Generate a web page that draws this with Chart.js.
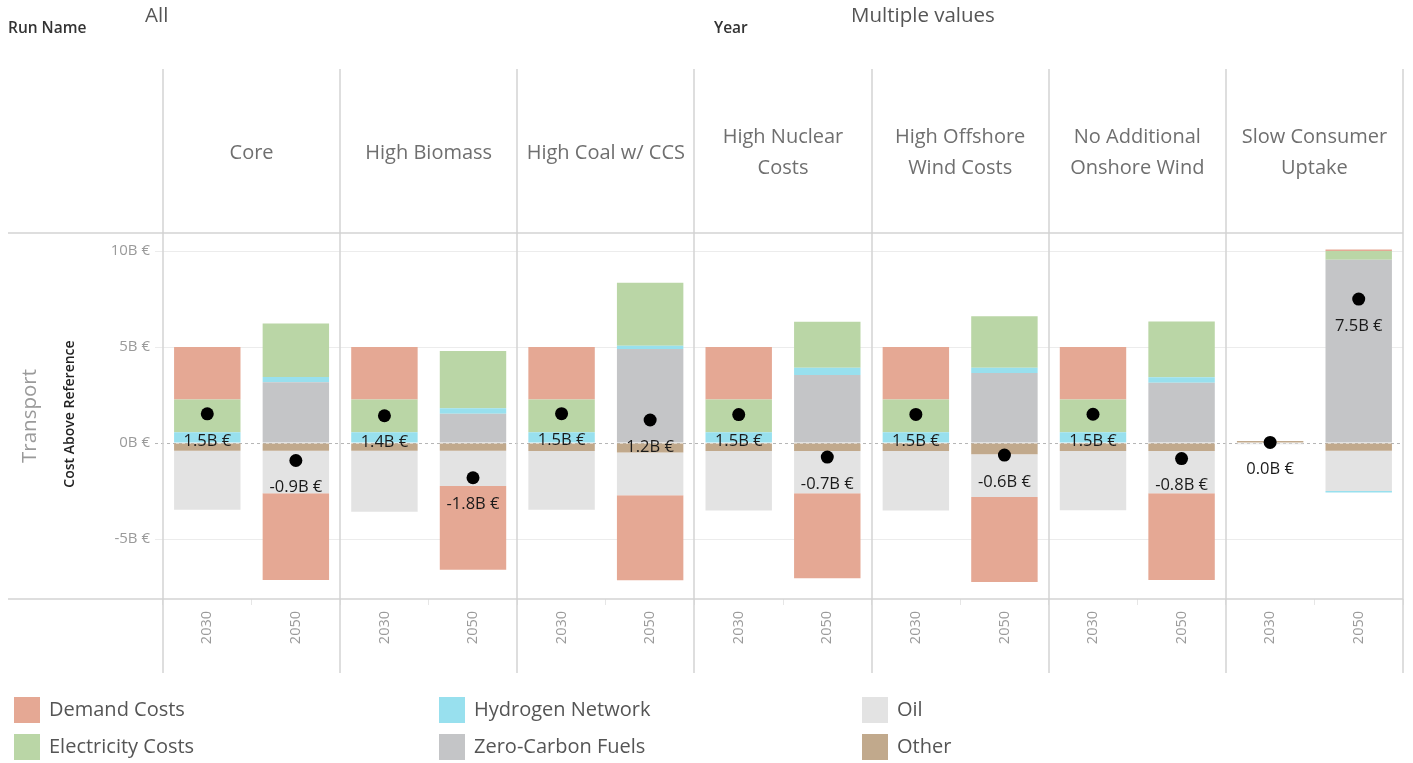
<!DOCTYPE html>
<html>
<head>
<meta charset="utf-8">
<title>Transport cost above reference</title>
<script src="https://cdn.jsdelivr.net/npm/chart.js@4.4.1/dist/chart.umd.min.js"></script>
<style>
  html, body { margin: 0; padding: 0; background: #fff; }
  #wrap { width: 1413px; height: 763px; }
</style>
</head>
<body>
<div id="wrap"><canvas id="costChart" width="1413" height="763"></canvas></div>
<script>
// Facets (Run Name) and the years inside each one
const runs = ['Core', 'High Biomass', 'High Coal w/ CCS', 'High Nuclear Costs',
  'High Offshore Wind Costs', 'No Additional Onshore Wind', 'Slow Consumer Uptake'];
const runHeaders = [['Core'], ['High Biomass'], ['High Coal w/ CCS'], ['High Nuclear', 'Costs'],
  ['High Offshore', 'Wind Costs'], ['No Additional', 'Onshore Wind'], ['Slow Consumer', 'Uptake']];
const years = ['2030', '2050'];

// Values in billion €, one per run/year (Core 2030, Core 2050, High Biomass 2030, ...)
const demandCosts      = [2.73, -4.52, 2.73, -4.36, 2.73, -4.43, 2.73, -4.43, 2.73, -4.43, 2.73, -4.52, 0, 0.08];
const electricityCosts = [1.71, 2.79, 1.71, 2.98, 1.71, 3.28, 1.71, 2.40, 1.71, 2.69, 1.71, 2.91, 0, 0.45];
const hydrogenNetwork  = [0.56, 0.28, 0.56, 0.28, 0.56, 0.17, 0.56, 0.38, 0.56, 0.27, 0.56, 0.28, 0, -0.08];
const zeroCarbonFuels  = [0, 3.16, 0, 1.53, 0, 4.90, 0, 3.54, 0, 3.65, 0, 3.14, 0, 9.55];
const oil              = [-3.08, -2.22, -3.18, -1.84, -3.05, -2.22, -3.10, -2.20, -3.09, -2.22, -3.08, -2.20, -0.07, -2.10];
const other            = [-0.40, -0.40, -0.40, -0.40, -0.42, -0.50, -0.42, -0.42, -0.42, -0.59, -0.42, -0.42, 0.10, -0.40];

const yTicks = [-5, 0, 5, 10];

const labels = runs.flatMap(() => years);
const totals = labels.map((_, i) =>
  demandCosts[i] + electricityCosts[i] + hydrogenNetwork[i] + zeroCarbonFuels[i] + oil[i] + other[i]);

const FONT = '"Open Sans", "Noto Sans", sans-serif';

// stacking order: positives ZCF -> H2 -> Elec -> Demand, negatives Other -> Oil -> H2/Demand
const barSets = [
  { label: 'Other', data: other, backgroundColor: '#c1a98c' },
  { label: 'Oil', data: oil, backgroundColor: '#e3e3e3' },
  { label: 'Zero-Carbon Fuels', data: zeroCarbonFuels, backgroundColor: '#c4c5c7' },
  { label: 'Hydrogen Network', data: hydrogenNetwork, backgroundColor: '#98e0ee' },
  { label: 'Electricity Costs', data: electricityCosts, backgroundColor: '#bad6a6' },
  { label: 'Demand Costs', data: demandCosts, backgroundColor: '#e5a894' }
];

const legendOrder = ['Demand Costs', 'Electricity Costs', 'Hydrogen Network', 'Zero-Carbon Fuels', 'Oil', 'Other'];

const facetPlugin = {
  id: 'facets',
  beforeDatasetsDraw(chart) {
    const { ctx, chartArea } = chart;
    const y0 = chart.scales.y.getPixelForValue(0);
    ctx.save();
    ctx.strokeStyle = '#b5b5b5';
    ctx.lineWidth = 1;
    ctx.setLineDash([3, 3]);
    ctx.beginPath();
    ctx.moveTo(chartArea.left - 8, y0 + 0.5);
    ctx.lineTo(chartArea.right, y0 + 0.5);
    ctx.stroke();
    ctx.restore();
  },
  afterDatasetsDraw(chart) {
    const { ctx } = chart;
    const meta = chart.getDatasetMeta(barSets.length);
    ctx.save();
    ctx.fillStyle = '#1a1a1a';
    ctx.font = '16.5px ' + FONT;
    ctx.textAlign = 'center';
    ctx.textBaseline = 'middle';
    meta.data.forEach((pt, i) => {
      let txt = totals[i].toFixed(1);
      if (txt === '-0.0') txt = '0.0';
      ctx.fillText(txt + 'B €', pt.x, pt.y + 27);
    });
    ctx.restore();
  },
  afterDraw(chart) {
    const { ctx, chartArea, scales } = chart;
    const x = scales.x;
    const panelW = (x.right - x.left) / runs.length;
    ctx.save();

    // frame lines
    ctx.strokeStyle = '#d3d3d3';
    ctx.lineWidth = 1.5;
    ctx.beginPath();
    ctx.moveTo(8, chartArea.top);
    ctx.lineTo(chartArea.right, chartArea.top);
    ctx.moveTo(8, chartArea.bottom);
    ctx.lineTo(chartArea.right, chartArea.bottom);
    for (let i = 0; i <= runs.length; i++) {
      const px = Math.round(x.left + i * panelW);
      ctx.moveTo(px, 69);
      ctx.lineTo(px, 673);
    }
    ctx.stroke();

    // run headers
    ctx.fillStyle = '#6f6f6f';
    ctx.font = '20px ' + FONT;
    ctx.textAlign = 'center';
    ctx.textBaseline = 'middle';
    runHeaders.forEach((lines, i) => {
      const cx = x.left + (i + 0.5) * panelW;
      const startY = 153 - (lines.length - 1) * 15.5;
      lines.forEach((ln, j) => ctx.fillText(ln, cx, startY + j * 31));
    });

    // filter captions
    ctx.textAlign = 'left';
    ctx.fillStyle = '#333';
    ctx.font = '600 15.5px ' + FONT;
    ctx.fillText('Run Name', 8, 29);
    ctx.fillText('Year', 714, 29);
    ctx.fillStyle = '#555';
    ctx.font = '20.5px ' + FONT;
    ctx.fillText('All', 145, 16);
    ctx.fillText('Multiple values', 851, 16);

    // row header and axis title
    ctx.save();
    ctx.translate(30, 416);
    ctx.rotate(-Math.PI / 2);
    ctx.textAlign = 'center';
    ctx.fillStyle = '#9a9a9a';
    ctx.font = '20.5px ' + FONT;
    ctx.fillText('Transport', 0, 0);
    ctx.restore();
    ctx.save();
    ctx.translate(70, 414);
    ctx.rotate(-Math.PI / 2);
    ctx.textAlign = 'center';
    ctx.fillStyle = '#222';
    ctx.font = '600 14px ' + FONT;
    ctx.fillText('Cost Above Reference', 0, 0);
    ctx.restore();

    // legend, column-major
    ctx.font = '20px ' + FONT;
    ctx.textAlign = 'left';
    const colX = [14, 439, 862];
    const rowY = [710, 747];
    legendOrder.forEach((name, k) => {
      const ds = barSets.find(d => d.label === name);
      const lx = colX[Math.floor(k / 2)];
      const ly = rowY[k % 2];
      ctx.fillStyle = ds.backgroundColor;
      ctx.fillRect(lx, ly - 13, 26, 26);
      ctx.fillStyle = '#555';
      ctx.fillText(name, lx + 35, ly);
    });
    ctx.restore();
  }
};

new Chart(document.getElementById('costChart').getContext('2d'), {
  data: {
    labels: labels,
    datasets: [
      ...barSets.map(d => ({
        type: 'bar',
        label: d.label,
        data: d.data,
        backgroundColor: d.backgroundColor,
        borderWidth: 0,
        categoryPercentage: 1,
        barPercentage: 0.75,
        order: 2
      })),
      {
        type: 'line',
        label: 'Total',
        data: totals,
        stack: 'total',
        showLine: false,
        pointRadius: 6.5,
        pointHoverRadius: 6.5,
        pointBackgroundColor: '#000',
        pointBorderWidth: 0,
        order: 0
      }
    ]
  },
  options: {
    responsive: false,
    animation: false,
    layout: { padding: { top: 233, right: 10, bottom: 90, left: 0 } },
    plugins: { legend: { display: false }, tooltip: { enabled: false } },
    scales: {
      x: {
        stacked: true,
        offset: true,
        grid: { offset: true, drawOnChartArea: false, tickLength: 6, color: '#e6e6e6' },
        border: { display: false },
        ticks: { minRotation: 90, maxRotation: 90, autoSkip: false, padding: 6, color: '#9a9a9a', font: { family: FONT, size: 14.5 } },
        afterFit: s => { s.height = 74; }
      },
      y: {
        stacked: true,
        min: -8.125,
        max: 10.94,
        afterBuildTicks: s => { s.ticks = yTicks.map(v => ({ value: v })); },
        grid: {
          color: c => (c.tick && c.tick.value === 0 ? 'rgba(0,0,0,0)' : '#ececec'),
          tickLength: 8
        },
        border: { display: false },
        ticks: { padding: 5, color: '#9a9a9a', font: { family: FONT, size: 15 }, callback: v => v + 'B €' },
        afterFit: s => { s.width = 163; }
      }
    }
  },
  plugins: [facetPlugin]
});
</script>
</body>
</html>
